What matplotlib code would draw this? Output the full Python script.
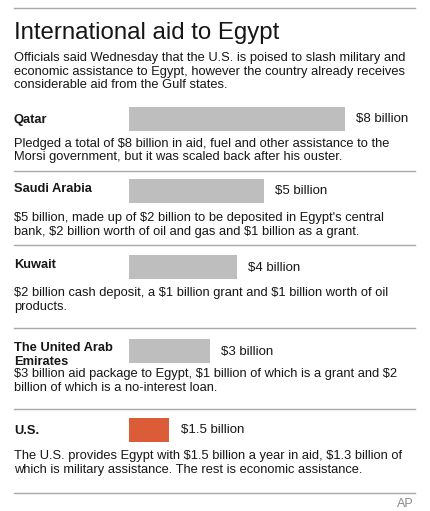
import matplotlib.pyplot as plt

# data
countries = ["Qatar", "Saudi Arabia", "Kuwait", "The United Arab\nEmirates", "U.S."]
aid_billions = [8, 5, 4, 3, 1.5]
aid_labels = ["$8 billion", "$5 billion", "$4 billion", "$3 billion", "$1.5 billion"]
notes = [
    "Pledged a total of $8 billion in aid, fuel and other assistance to the\n"
    "Morsi government, but it was scaled back after his ouster.",
    "$5 billion, made up of $2 billion to be deposited in Egypt's central\n"
    "bank, $2 billion worth of oil and gas and $1 billion as a grant.",
    "$2 billion cash deposit, a $1 billion grant and $1 billion worth of oil\n"
    "products.",
    "$3 billion aid package to Egypt, $1 billion of which is a grant and $2\n"
    "billion of which is a no-interest loan.",
    "The U.S. provides Egypt with $1.5 billion a year in aid, $1.3 billion of\n"
    "which is military assistance. The rest is economic assistance.",
]
bar_colors = ["#bebebf", "#bebebf", "#bebebf", "#bebebf", "#dc5c37"]

title = "International aid to Egypt"
subtitle = ("Officials said Wednesday that the U.S. is poised to slash military and\n"
            "economic assistance to Egypt, however the country already receives\n"
            "considerable aid from the Gulf states.")

# layout (pixel rows, top-down)
bar_y = [119, 191, 267.5, 351.5, 430]
label_y = [123, 191.5, 268, 351, 434]
note_y = [146.5, 221.5, 296, 377, 459]
rule_y = [8, 171, 245, 328, 409, 493]
line_gap = 13.8

plt.rcParams['font.family'] = ['Liberation Sans', 'DejaVu Sans']
plt.rcParams['text.parse_math'] = False
W, H = 431, 511
fig = plt.figure(figsize=(W / 100, H / 100), dpi=100)
fig.patch.set_facecolor('white')

ax = fig.add_axes([0, 0, 1, 1])
ax.set_xlim(0, W)
ax.set_ylim(H, 0)
ax.axis('off')

text_color = '#161616'


def put_lines(x, y0, text, gap, **kw):
    # one text per line so every baseline sits where we want it
    for i, line in enumerate(text.split('\n')):
        ax.text(x, y0 + i * gap, line, va='baseline', color=text_color, **kw)


for y in rule_y:
    ax.plot([14, 415], [y, y], color='#a8a8a8', lw=1)

ax.text(14, 39.5, title, fontsize=17.3, color=text_color, va='baseline')
put_lines(14, 61.5, subtitle, 13.5, fontsize=9.25)

for name, ly, note, ny in zip(countries, label_y, notes, note_y):
    put_lines(14, ly, name, 14, fontsize=9.3, fontweight='bold')
    put_lines(14, ny, note, line_gap, fontsize=9.3)

ax.text(414, 507, "AP", fontsize=9, color='#8a8a8a', ha='right', va='baseline')

# bars
bx = fig.add_axes([129 / W, 0, 216 / W, 1])
bx.set_xlim(0, 8)
bx.set_ylim(H, 0)
bx.axis('off')
bx.barh(bar_y, aid_billions, height=24, color=bar_colors)
for v, y, lab in zip(aid_billions, bar_y, aid_labels):
    bx.annotate(lab, (v, y), xytext=(8, 0), textcoords='offset points',
                fontsize=9.5, color=text_color, va='center', ha='left',
                annotation_clip=False)

fig.savefig('out.png', dpi=100)
